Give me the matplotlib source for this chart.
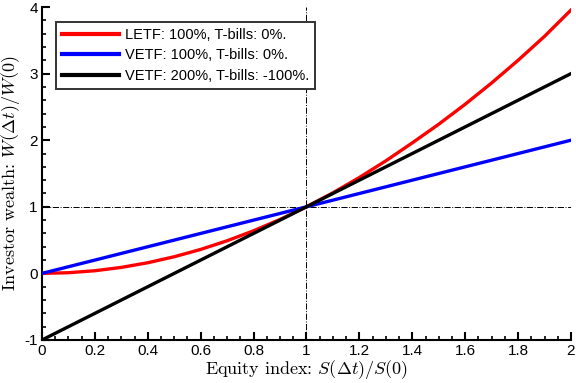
import matplotlib
matplotlib.use("Agg")
import matplotlib.pyplot as plt
from matplotlib.ticker import MultipleLocator

plt.rcParams['font.family'] = ['Liberation Sans', 'DejaVu Sans']
plt.rcParams['mathtext.fontset'] = 'cm'

# equity index ratio S(dt)/S(0)
s_ratio = [0.0, 0.1, 0.2, 0.3, 0.4, 0.5, 0.6, 0.7, 0.8, 0.9, 1.0,
           1.1, 1.2, 1.3, 1.4, 1.5, 1.6, 1.7, 1.8, 1.9, 2.0]
# LETF wealth
letf = [0.0, 0.01, 0.04, 0.09, 0.16, 0.25, 0.36, 0.49, 0.64, 0.81, 1.0,
        1.21, 1.44, 1.69, 1.96, 2.24, 2.54, 2.86, 3.2, 3.56, 3.955]
# VETF lines (end points)
vetf_x = [0.0, 2.0]
vetf100 = [0.0, 2.0]
vetf200 = [-1.0, 3.0]

labels = ["LETF: 100%, T-bills: 0%.",
          "VETF: 100%, T-bills: 0%.",
          "VETF: 200%, T-bills: -100%."]

fig = plt.figure(figsize=(5.76, 3.83), dpi=100)
ax = fig.add_axes([0.0729, 0.1123, 0.9184, 0.8694])

ax.axhline(1, color='black', lw=0.7, ls='-.', zorder=1)
ax.axvline(1, color='black', lw=0.7, ls='-.', zorder=1)

ax.plot(s_ratio, letf, color='#ff0000', lw=2.4, label=labels[0], zorder=3)
ax.plot(vetf_x, vetf100, color='#0000ff', lw=2.4, label=labels[1], zorder=3)
ax.plot(vetf_x, vetf200, color='black', lw=2.4, label=labels[2], zorder=4)

ax.set_xlim(0, 2)
ax.set_ylim(-1, 4)
ax.xaxis.set_minor_locator(MultipleLocator(0.05))
ax.yaxis.set_minor_locator(MultipleLocator(0.2))
ax.set_xticks([0, 0.2, 0.4, 0.6, 0.8, 1, 1.2, 1.4, 1.6, 1.8, 2])
ax.set_xticklabels(['0', '0.2', '0.4', '0.6', '0.8', '1', '1.2', '1.4', '1.6', '1.8', '2'])
ax.set_yticks([-1, 0, 1, 2, 3, 4])
ax.set_yticklabels(['-1', '0', '1', '2', '3', '4'])

ax.spines['top'].set_visible(False)
ax.spines['right'].set_visible(False)
ax.spines['left'].set_linewidth(1.5)
ax.spines['bottom'].set_linewidth(1.5)
ax.tick_params(which='major', direction='in', length=6, width=1.5, labelsize=11, pad=3)
ax.tick_params(which='minor', direction='in', length=3, width=1.2)

ax.set_xlabel(r"Equity index: $S(\Delta t)/S(0)$", fontsize=13, labelpad=0,
              family=['cmr10', 'DejaVu Serif'])
ax.set_ylabel(r"Investor wealth: $W(\Delta t)/W(0)$", fontsize=13, labelpad=2,
              family=['cmr10', 'DejaVu Serif'])

leg = ax.legend(loc='upper left', bbox_to_anchor=(0.0265, 0.955), fontsize=10.5,
                frameon=True, fancybox=False, handlelength=3.9, handletextpad=0.4,
                borderpad=0.4, labelspacing=0.45, borderaxespad=0, framealpha=1)
leg.get_frame().set_edgecolor('#333333')
leg.get_frame().set_linewidth(1.4)
for line in leg.get_lines():
    line.set_linewidth(3)

fig.savefig("out.png", dpi=100)
